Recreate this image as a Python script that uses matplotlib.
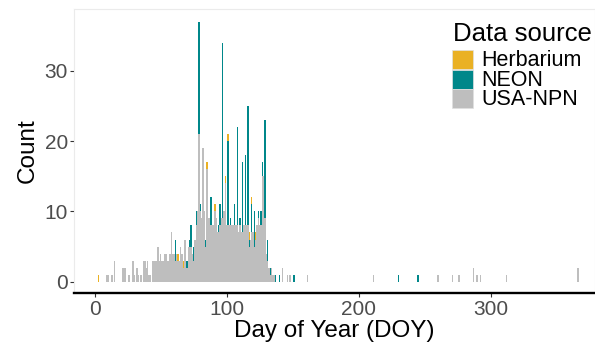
import numpy as np
import matplotlib
matplotlib.use("Agg")
import matplotlib.pyplot as plt
from matplotlib.patches import Rectangle

plt.rcParams['font.family'] = ['Liberation Sans', 'DejaVu Sans']

# daily counts (binwidth = 1 day)
npn_doy = [9, 10, 13, 15, 21, 22, 23, 26, 29, 30, 32, 33, 35, 37, 38, 39, 40, 41, 42,
           44, 45, 46, 47, 48, 49, 50, 51, 52, 53, 54, 55, 56, 57, 58, 59, 60, 61, 62,
           63, 64, 65, 66, 67, 68, 69, 70, 71, 72, 73, 74, 75, 76, 77, 78, 79, 80, 81,
           82, 83, 84, 85, 86, 87, 88, 89, 90, 91, 92, 93, 94, 95, 96, 97, 98, 99, 100,
           101, 102, 103, 104, 105, 106, 107, 108, 109, 110, 111, 112, 113, 114, 115,
           116, 117, 118, 119, 120, 121, 122, 123, 124, 125, 126, 127, 128, 129, 130,
           131, 132, 133, 134, 135, 136, 142, 146, 148, 161, 211, 260, 271, 276, 287,
           289, 290, 292, 312, 366]
npn_n = [1, 1, 1, 3, 2, 2, 2, 1, 3, 1, 2, 1, 1, 3, 3, 2, 3, 1, 1,
         3, 3, 3, 3, 5, 3, 4, 3, 3, 4, 4, 3, 3, 4, 7, 4, 4, 3, 4,
         3, 3, 5, 4, 2, 6, 6, 2, 5, 5, 5, 4, 3, 6, 8, 10, 21, 10, 9,
         19, 10, 5, 16, 9, 9, 8, 8, 8, 10, 9, 7, 7, 8, 9, 9, 10, 14, 8,
         8, 8, 8, 8, 8, 8, 8, 8, 7, 8, 7, 7, 8, 8, 8,
         8, 5, 6, 7, 7, 5, 6, 8, 9, 8, 8, 15, 15, 9, 4,
         3, 2, 1, 2, 1, 1, 2, 1, 1, 1, 1, 1, 1, 1, 2,
         1, 1, 1, 1, 2]

neon_doy = [61, 70, 72, 73, 75, 77, 79, 80, 84, 88, 94, 95, 97, 101, 103, 106, 108, 110,
            112, 114, 116, 117, 119, 121, 124, 126, 127, 129, 131, 133, 137, 140, 151,
            230, 245]
neon_n = [3, 1, 1, 3, 2, 2, 16, 1, 1, 4, 1, 3, 25, 12, 1, 3, 14, 1,
          10, 10, 17, 1, 4, 5, 1, 2, 2, 14, 3, 1, 1, 1, 1,
          1, 1]

herb_doy = [3, 63, 67, 85, 91, 99, 101, 117, 119, 122]
herb_n = [1, 1, 1, 1, 1, 1, 1, 1, 1, 1]

labels = ["Herbarium", "NEON", "USA-NPN"]
colors = ["#EAB124", "#00878A", "#BEBEBE"]

W, H = 595, 345


def daily(doy, n):
    out = np.zeros(367)
    out[doy] = n
    return out


days = np.arange(367)
npn = daily(npn_doy, npn_n)
neon = daily(neon_doy, neon_n)
herb = daily(herb_doy, herb_n)

fig = plt.figure(figsize=(W / 100, H / 100), dpi=100)
ax = fig.add_axes([74 / W, 51.7 / H, 1 - 74 / W, (293.3 - 8.6) / H])

# stacked: USA-NPN at the bottom, then NEON, Herbarium on top
ax.bar(days, npn, width=1, color=colors[2], linewidth=0)
ax.bar(days, neon, width=1, bottom=npn, color=colors[1], linewidth=0)
ax.bar(days, herb, width=1, bottom=npn + neon, color=colors[0], linewidth=0)

ax.set_xlim(-15.7, -15.7 + (W - 74) / 1.32)
ax.set_ylim(-1.65, 38.85)
ax.set_xticks([0, 100, 200, 300])
ax.set_yticks([0, 10, 20, 30])

for s in ["top", "left", "right"]:
    ax.spines[s].set_color("#EBEBEB")
    ax.spines[s].set_linewidth(0.8)
ax.spines["bottom"].set_color("black")
ax.spines["bottom"].set_linewidth(1.7)

ax.tick_params(axis="both", labelsize=15, labelcolor="#4D4D4D", color="#333333",
               length=3, width=0.8, pad=1.5)
ax.set_xlabel("Day of Year (DOY)", fontsize=17.5, labelpad=1)
ax.set_ylabel("Count", fontsize=17.5, labelpad=4)

# legend drawn by hand (pixel positions from the top-left corner)
fig.text(453 / W, 1 - 40.7 / H, "Data source", fontsize=18.5, va="baseline", ha="left")
key_top = [50, 69.5, 89]
for lab, c, top in zip(labels, colors, key_top):
    fig.patches.append(Rectangle((452 / W, 1 - (top + 19) / H), 21 / W, 19 / H,
                                 facecolor=c, edgecolor="#E0E0E0", linewidth=0.5,
                                 transform=fig.transFigure, figure=fig))
    fig.text(481 / W, 1 - (top + 16.5) / H, lab, fontsize=15.5, va="baseline", ha="left")

fig.savefig("out.png", dpi=100)
